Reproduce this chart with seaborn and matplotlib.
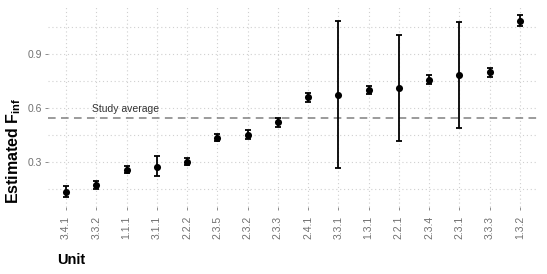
import matplotlib
matplotlib.use("Agg")
import matplotlib.pyplot as plt
import seaborn as sns
import pandas as pd
import numpy as np

units = ["3.4.1", "3.3.2", "1.1.1", "3.1.1", "2.2.2", "2.3.5", "2.3.2", "2.3.3",
         "2.4.1", "3.3.1", "1.3.1", "2.2.1", "2.3.4", "2.3.1", "3.3.3", "1.3.2"]
estimate = [0.132, 0.170, 0.255, 0.270, 0.300, 0.435, 0.450, 0.520,
            0.661, 0.675, 0.700, 0.712, 0.759, 0.787, 0.800, 1.087]
lower = [0.102, 0.150, 0.235, 0.220, 0.280, 0.415, 0.425, 0.495,
         0.636, 0.265, 0.677, 0.418, 0.735, 0.487, 0.774, 1.057]
upper = [0.162, 0.190, 0.275, 0.334, 0.320, 0.455, 0.475, 0.545,
         0.686, 1.088, 0.723, 1.010, 0.783, 1.083, 0.826, 1.117]
study_average = 0.547
y_ticks = [0.3, 0.6, 0.9]
y_minor = [0.15, 0.45, 0.75, 1.05]

df = pd.DataFrame({"Unit": units, "est": estimate, "lo": lower, "hi": upper})

sns.set_theme(style="white")
plt.rcParams["font.family"] = ["Liberation Sans", "DejaVu Sans"]
plt.rcParams["mathtext.fontset"] = "custom"
plt.rcParams["mathtext.rm"] = "Liberation Sans"
plt.rcParams["mathtext.bf"] = "Liberation Sans:bold"
plt.rcParams["mathtext.it"] = "Liberation Sans:italic"

fig = plt.figure(figsize=(5.47, 2.74), dpi=100)
ax = fig.add_axes([48 / 547, 1 - 206.5 / 274, 490 / 547, 200.5 / 274])

grid_kw = dict(color="#d0d0d0", linewidth=0.8, linestyle=(0, (1, 2.5)), zorder=0)
for i in range(len(units)):
    ax.axvline(i, **grid_kw)
for v in y_ticks + y_minor:
    ax.axhline(v, **grid_kw)

ax.axhline(study_average, color="#808080", linewidth=1.1, linestyle=(0, (5, 3.5)), zorder=1)

x = np.arange(len(units))
est = df["est"].to_numpy()
ax.errorbar(x, est, yerr=[est - df["lo"].to_numpy(), df["hi"].to_numpy() - est],
            fmt="none", ecolor="black", elinewidth=1.3, capsize=2.4, capthick=1.3, zorder=2)
sns.scatterplot(data=df, x="Unit", y="est", color="black", s=26, edgecolor="black",
                linewidth=0, ax=ax, zorder=3)

ax.text(0.85, 0.594, "Study average", ha="left", va="center", fontsize=7.5, color="#333333")

ax.set_xlim(-0.6, len(units) - 1 + 0.6)
ax.set_ylim(0.05, 1.17)
ax.set_yticks(y_ticks)
ax.set_yticklabels([f"{v:.1f}" for v in y_ticks])
ax.set_xticks(x)
ax.set_xticklabels(units, rotation=90)
ax.tick_params(axis="both", colors="#7a7a7a", labelcolor="#707070", labelsize=7.5,
               length=2.5, width=0.6, pad=2, direction="out", bottom=True, left=True)
ax.tick_params(axis="x", pad=4)
for s in ax.spines.values():
    s.set_visible(False)
ax.set_xlabel("")
ax.set_ylabel("")

fig.text(57 / 547, 1 - 260 / 274, "Unit", fontsize=10.5, fontweight="bold",
         ha="left", va="center", color="black")
fig.text(14 / 547, 1 - 151 / 274, r"Estimated F$_{\mathbf{inf}}$", fontsize=11.5,
         fontweight="bold", rotation=90, ha="center", va="center", color="black")

fig.savefig("out.png", dpi=100)
